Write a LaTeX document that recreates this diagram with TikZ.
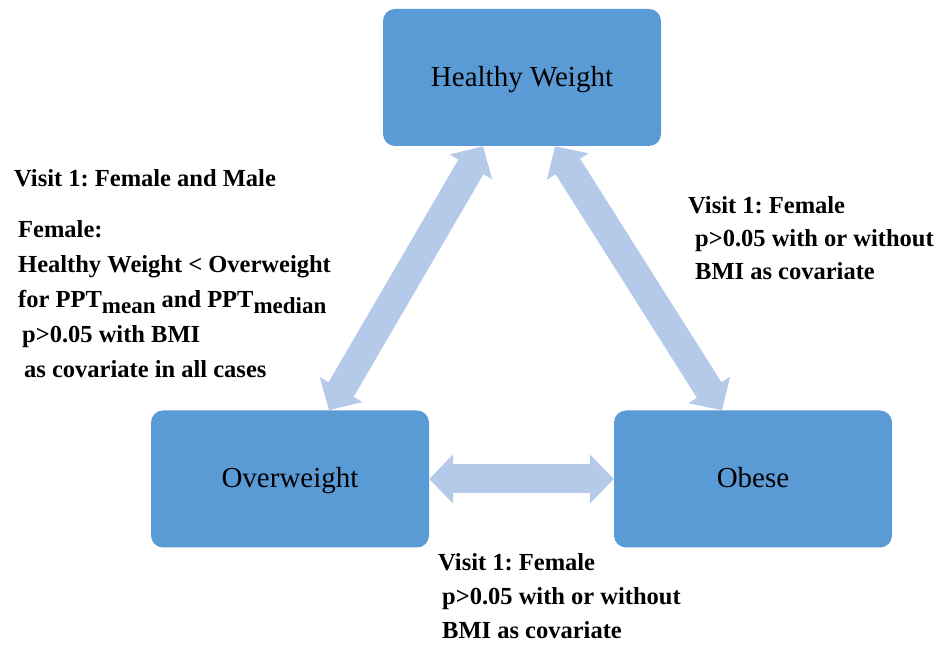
\documentclass[tikz,border=0pt]{standalone}
\usepackage{fontspec}
\setmainfont{Liberation Serif}
\usetikzlibrary{arrows.meta}
\definecolor{boxblue}{HTML}{5B9BD5}
\definecolor{arrowblue}{HTML}{B5CAE8}
\newcommand{\lowsub}[1]{\raisebox{-6pt}{\fontsize{23}{23}\selectfont #1}}
\frenchspacing
\begin{document}
\begin{tikzpicture}[x=1pt,y=1pt,
  weightbox/.style={fill=boxblue, rounded corners=12pt, minimum width=278pt, minimum height=137pt, inner sep=0pt, text height=20pt, text depth=2pt, font=\fontsize{29}{29}\selectfont},
  linkarrow/.style={draw=arrowblue, line width=29pt, {Triangle[length=24pt,width=48pt]}-{Triangle[length=24pt,width=48pt]}},
  note/.style={anchor=base west, align=left, inner sep=0pt, font=\bfseries\fontsize{24.5}{35}\selectfont}]
\useasboundingbox (0,0) rectangle (938,646);
% the three groups
\node[weightbox] (hw) at (522,568.5) {Healthy Weight};
\node[weightbox] (ow) at (290,167) {Overweight};
\node[weightbox] (ob) at (753,167) {Obese};
% comparisons
\draw[linkarrow] ([xshift=-39pt]hw.south) -- ([xshift=39pt]ow.north);
\draw[linkarrow] ([xshift=33pt]hw.south) -- ([xshift=-31pt]ob.north);
\draw[linkarrow] (ow.east) -- (ob.west);
% notes (base = last line)
\node[note] (fm) at (14,459) {Visit 1: Female and Male};
\node[note] (hwow) at (18,268) {Female:\\
  Healthy Weight < Overweight\\
  for PPT\lowsub{mean} and PPT\lowsub{median}\\
  \hspace{4pt}p>0.05 with BMI\\
  \hspace{6pt}as covariate in all cases};
\node[note, font=\bfseries\fontsize{24.5}{33}\selectfont] (hwob) at (688,366) {Visit 1: Female\\
  \hspace{7pt}p>0.05 with or without\\
  \hspace{7pt}BMI as covariate};
\node[note, font=\bfseries\fontsize{24.5}{34}\selectfont] (owob) at (438,8) {Visit 1: Female\\
  \hspace{4pt}p>0.05 with or without\\
  \hspace{4pt}BMI as covariate};
\end{tikzpicture}
\end{document}
